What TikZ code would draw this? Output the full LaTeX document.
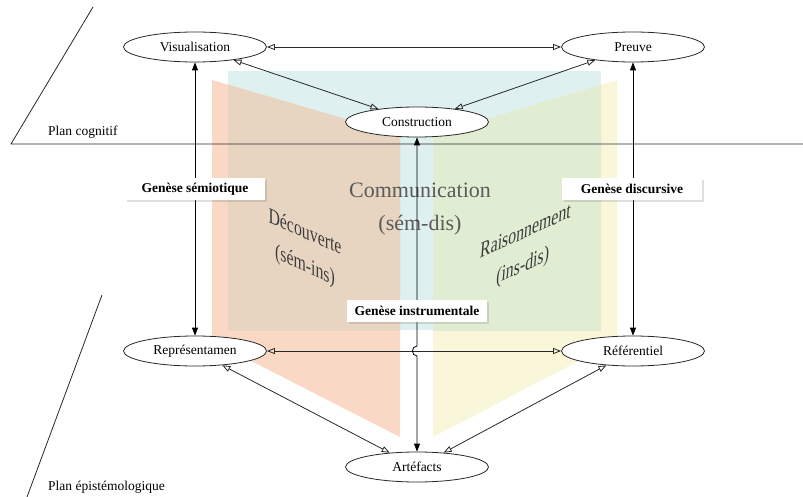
\documentclass[tikz,border=0pt]{standalone}
\usepackage{fontspec}
\setmainfont{Liberation Serif}
\usetikzlibrary{arrows.meta,shapes.geometric,shadows,calc}
\definecolor{paneblue}{RGB}{222,240,240}
\definecolor{paneorange}{RGB}{249,217,197}
\definecolor{panebrown}{RGB}{231,213,193}
\definecolor{paneyellow}{RGB}{250,246,218}
\definecolor{panegreen}{RGB}{225,237,211}
\definecolor{commgray}{RGB}{90,90,90}
\definecolor{slantgray}{RGB}{60,60,60}
\definecolor{linegray}{RGB}{40,40,40}
\begin{document}
\begin{tikzpicture}[x=1pt,y=-1pt,
  concept/.style={ellipse, draw=linegray, line width=0.8pt, fill=white, minimum width=143pt, minimum height=30pt, inner sep=0pt, font=\fontsize{13.5}{16}\selectfont},
  genese/.style={rectangle, fill=white, minimum width=140pt, minimum height=22pt, inner sep=0pt, font=\bfseries\fontsize{13.5}{16}\selectfont, drop shadow={opacity=0.25, shadow xshift=2pt, shadow yshift=-2pt}},
  open2/.style={draw=linegray, line width=0.8pt, {Triangle[open,length=8pt,width=6pt]}-{Triangle[open,length=8pt,width=6pt]}},
  fill2/.style={draw=black, line width=0.8pt, {Triangle[length=8pt,width=6pt]}-{Triangle[length=8pt,width=6pt]}},
  planline/.style={draw=linegray, line width=0.8pt},
  plantext/.style={anchor=west, font=\fontsize{13.5}{16}\selectfont, inner sep=0pt},
  bigtext/.style={align=center, font=\fontsize{22}{33}\selectfont, inner sep=0pt}
]
\useasboundingbox (0,0) rectangle (803,497);
% panes
\fill[paneblue] (228,71) rectangle (601,330);
\fill[paneorange] (212,80) -- (400,135) -- (400,437) -- (212,341) -- cycle;
\fill[paneyellow] (617,80) -- (433,135) -- (433,437) -- (617,341) -- cycle;
\begin{scope}
  \clip (228,71) rectangle (601,330);
  \fill[panebrown] (212,80) -- (400,135) -- (400,437) -- (212,341) -- cycle;
  \fill[panegreen] (617,80) -- (433,135) -- (433,437) -- (617,341) -- cycle;
\end{scope}
% pane texts
\node[bigtext, text=commgray] (comm) at (420,209) {Communication\\(sém-dis)};
\node[bigtext, text=slantgray, xscale=0.72, yslant=-0.32] (dec) at (305,250) {Découverte\\(sém-ins)};
\node[bigtext, text=slantgray, xscale=0.72, yslant=0.33, xslant=0.12] (rai) at (524,250) {Raisonnement\\(ins-dis)};
% planes
\draw[planline] (93,7) -- (11,144) -- (803,144);
\draw[planline] (102,295) -- (27,497);
\node[plantext] (pc) at (48,132) {Plan cognitif};
\node[plantext] (pe) at (48,487) {Plan épistémologique};
% concepts
\node[concept] (vis) at (195,47) {Visualisation};
\node[concept] (pre) at (633,47) {Preuve};
\node[concept] (con) at (417,122) {Construction};
\node[concept] (rep) at (195,351) {Représentamen};
\node[concept] (ref) at (633,351) {Référentiel};
\node[concept] (art) at (417,467) {Artéfacts};
% connectors
\draw[open2] (vis) -- (pre);
\draw[open2] (vis) -- (con);
\draw[open2] (pre) -- (con);
\draw[open2] (rep) -- (ref);
\draw[open2] (rep) -- (art);
\draw[open2] (ref) -- (art);
\draw[fill2] (vis) -- (rep);
\draw[fill2] (pre) -- (ref);
\coordinate (j1) at ($(con.south |- ref.west)+(0,-5)$);
\coordinate (j2) at ($(con.south |- ref.west)+(0,5)$);
\draw[fill2] (con.south) -- (j1) .. controls +(-6,0) and +(-6,0) .. (j2) -- (art.north);
% genese labels
\node[genese] (gs) at (195,189) {Genèse sémiotique};
\node[genese] (gd) at (632,189) {Genèse discursive};
\node[genese] (gi) at (417,311) {Genèse instrumentale};
\end{tikzpicture}
\end{document}
